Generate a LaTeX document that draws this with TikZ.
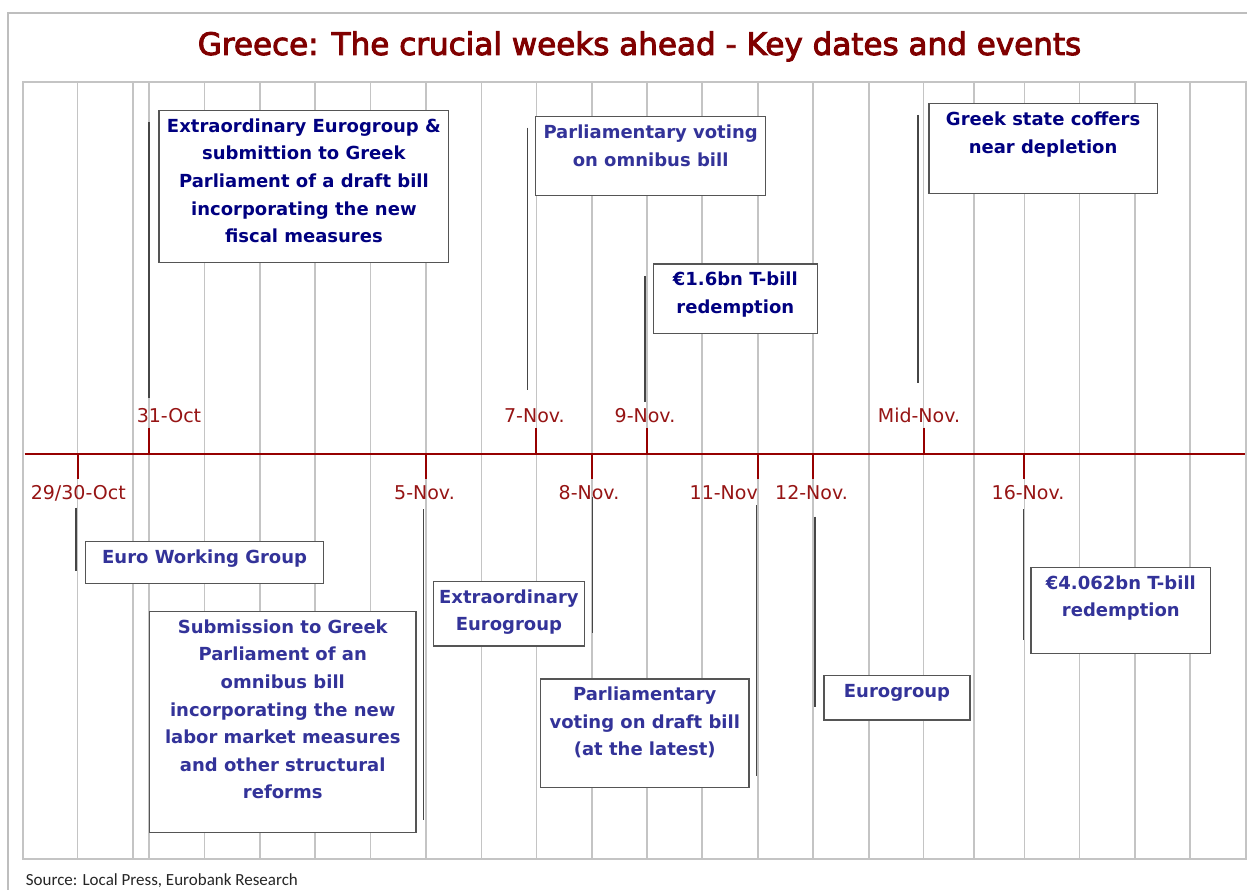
\documentclass[tikz,border=0pt]{standalone}
\usepackage{fontspec}
\setmainfont{DejaVu Sans}
\newfontfamily\titlefont{DejaVu Sans}[FakeBold=3]
\newfontfamily\srcfont{Carlito}
\definecolor{titlered}{RGB}{128,0,0}
\definecolor{axisred}{RGB}{150,0,0}
\definecolor{datered}{RGB}{150,20,20}
\definecolor{gridgray}{RGB}{196,196,196}
\definecolor{framegray}{RGB}{190,190,190}
\definecolor{boxgray}{RGB}{85,85,85}
\definecolor{conngray}{RGB}{70,70,70}
\definecolor{navyc}{RGB}{0,0,128}
\definecolor{bluec}{RGB}{51,51,153}
\begin{document}
\begin{tikzpicture}[x=1pt,y=-1pt,
  gridline/.style={draw=gridgray,line width=1.4pt},
  box/.style={draw=boxgray,line width=1.3pt,fill=white,inner sep=0pt,outer sep=0pt,anchor=north west},
  navytxt/.style={text=navyc,font=\fontsize{18}{27.6}\selectfont\bfseries,align=center,inner sep=0pt,anchor=base},
  bluetxt/.style={navytxt,text=bluec},
  datelbl/.style={text=datered,font=\fontsize{19}{22}\selectfont,inner sep=0pt,anchor=base},
  conn/.style={draw=conngray,line width=1.5pt},
  tickline/.style={draw=axisred,line width=2pt},
  axisline/.style={draw=axisred,line width=2.2pt},
]
\useasboundingbox (0,0) rectangle (1247,890);
\clip (0,0) rectangle (1247,890);
\fill[white] (0,0) rectangle (1247,890);
% outer frame
\draw[draw=framegray,line width=1.5pt] (8,13) rectangle (1300,950);
% title
\node[text=titlered,font=\titlefont\fontsize{31}{36}\selectfont,inner sep=0pt,anchor=base] (title) at (639.5,55) {Greece: The crucial weeks ahead - Key dates and events};
% plot area
\draw[draw=gridgray,line width=2pt] (22.5,82) rectangle (1245.8,859);
\foreach \x in {77.5,132.9,149.1,204.4,259.8,315.1,370.5,425.9,481.2,536.6,591.9,646.8,702.1,757.8,813.1,868.8,923.7,973.8,1024.3,1079.5,1134.8,1190.1}
  \draw[gridline] (\x,83) -- (\x,858);
% timeline
\coordinate (axL) at (24.5,453.7);
\coordinate (axR) at (1245,453.7);
\draw[axisline] (axL) -- (axR);
% ticks up
\foreach \n/\x in {oct31/149.1,nov7/536.2,nov9/646.8,midnov/923.7}{
  \coordinate (\n top) at (\x,427.7);
  \coordinate (\n ax) at (\x,453.7);
  \draw[tickline] (\n top) -- (\n ax);
}
% ticks down
\foreach \n/\x in {oct29/77.5,nov5/425.9,nov8/591.5,nov11/757.8,nov12/813.1,nov16/1024.3}{
  \coordinate (\n ax) at (\x,453.7);
  \coordinate (\n bot) at (\x,479);
  \draw[tickline] (\n ax) -- (\n bot);
}
% date labels
\node[datelbl] (l31) at (169,422.3) {31-Oct};
\node[datelbl] (l7) at (534.4,422.3) {7-Nov.};
\node[datelbl] (l9) at (645,422.3) {9-Nov.};
\node[datelbl] (lmid) at (919,422.3) {Mid-Nov.};
\node[datelbl] (l29) at (78.3,499) {29/30-Oct};
\node[datelbl] (l5) at (424.5,499) {5-Nov.};
\node[datelbl] (l8) at (589,499) {8-Nov.};
\node[datelbl,anchor=base east] (l11) at (758,499) {11-Nov};
\node[datelbl] (l12) at (811.5,499) {12-Nov.};
\node[datelbl] (l16) at (1028,499) {16-Nov.};
% connectors
\coordinate (c1a) at (149.1,122);   \coordinate (c1b) at (149.1,398);
\coordinate (c2a) at (527.5,127.7); \coordinate (c2b) at (527.5,390);
\coordinate (c3a) at (918,115);     \coordinate (c3b) at (918,383);
\coordinate (c4a) at (645,276);     \coordinate (c4b) at (645,401.7);
\coordinate (c5a) at (75.9,507.7);  \coordinate (c5b) at (75.9,571);
\coordinate (c6a) at (423.5,509);   \coordinate (c6b) at (423.5,820);
\coordinate (c7a) at (592.3,497);   \coordinate (c7b) at (592.3,633.3);
\coordinate (c8a) at (756.6,505);   \coordinate (c8b) at (756.6,775.7);
\coordinate (c9a) at (815,516.7);   \coordinate (c9b) at (815,706.7);
\coordinate (c10a) at (1023.4,509); \coordinate (c10b) at (1023.4,640);
\foreach \i in {1,...,10} \draw[conn] (c\i a) -- (c\i b);
% boxes (text node base = baseline of its last line)
\node[box,minimum width=289.8pt,minimum height=152pt] (b1) at (159,110.3) {};
\node[navytxt] (t1) at ([yshift=-132.4pt]b1.north) {Extraordinary Eurogroup \&\\submittion to Greek\\Parliament of a draft bill\\incorporating the new\\fiscal measures};
\node[box,minimum width=229.6pt,minimum height=78.6pt] (b2) at (535.8,116.7) {};
\node[bluetxt] (t2) at ([yshift=-49.6pt]b2.north) {Parliamentary voting\\on omnibus bill};
\node[box,minimum width=228.4pt,minimum height=89.6pt] (b3) at (928.9,103.7) {};
\node[navytxt] (t3) at ([yshift=-49.6pt]b3.north) {Greek state coffers\\near depletion};
\node[box,minimum width=164pt,minimum height=69.3pt] (b4) at (653.3,264) {};
\node[navytxt] (t4) at ([yshift=-49.6pt]b4.north) {€1.6bn T-bill\\redemption};
\node[box,minimum width=238.4pt,minimum height=42pt] (b5) at (85.4,541.3) {};
\node[bluetxt] (t5) at ([yshift=-22pt]b5.north) {Euro Working Group};
\node[box,minimum width=266.5pt,minimum height=220.6pt] (b6) at (149.5,611.7) {};
\node[bluetxt] (t6) at ([yshift=-187.1pt]b6.north) {Submission to Greek\\Parliament of an\\omnibus bill\\incorporating the new\\labor market measures\\and other structural\\reforms};
\node[box,minimum width=151pt,minimum height=64.3pt] (b7) at (433.4,581.7) {};
\node[bluetxt] (t7) at ([yshift=-49.1pt]b7.north) {Extraordinary\\Eurogroup};
\node[box,minimum width=208.5pt,minimum height=108.3pt] (b8) at (540.5,679) {};
\node[bluetxt] (t8) at ([yshift=-76.7pt]b8.north) {Parliamentary\\voting on draft bill\\(at the latest)};
\node[box,minimum width=146pt,minimum height=44.3pt] (b9) at (824,675.7) {};
\node[bluetxt] (t9) at ([yshift=-22pt]b9.north) {Eurogroup};
\node[box,minimum width=179.7pt,minimum height=86pt] (b10) at (1031,567.3) {};
\node[bluetxt] (t10) at ([yshift=-49.6pt]b10.north) {€4.062bn T-bill\\redemption};
% source
\node[font=\srcfont\fontsize{17}{19}\selectfont,text=black!85,inner sep=0pt,anchor=base west] (src) at (25.7,885) {Source: Local Press, Eurobank Research};
\end{tikzpicture}
\end{document}
